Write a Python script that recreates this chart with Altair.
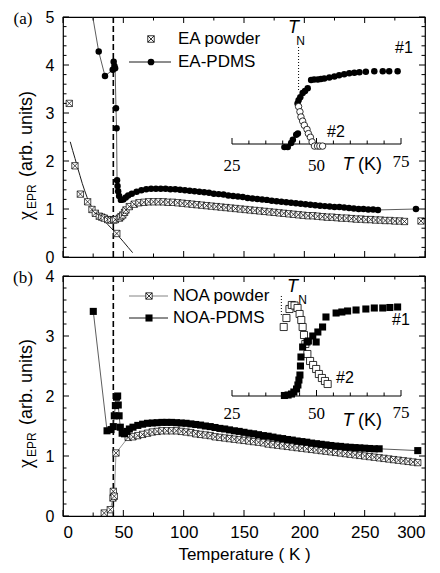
import altair as alt
import pandas as pd

# ======================= DATA =======================
# ---- panel (a): EA ----
EA_POW_T = [5.2, 9.9, 14.4, 20.4, 24.0, 26.8, 30.1, 32.2, 34.2, 37.0,
            39.8, 42.0, 43.4, 44.6, 46.7, 48.0, 49.5, 51.0, 52.2, 55.0,
            59, 63, 67, 71, 75, 79, 83, 87, 91, 95,
            99, 103, 107, 111, 115, 119, 123, 127, 131, 135,
            139, 143, 147, 151, 155, 159, 163, 167, 171, 175,
            179, 183, 187, 191, 195, 199, 203, 207, 211, 215,
            219, 223, 227, 231, 235, 239, 243, 247, 251, 255,
            259, 263, 267, 271, 275, 279, 283,
            296.7]
EA_POW_V = [3.20, 1.90, 1.31, 1.15, 0.99, 0.91, 0.85, 0.83, 0.81, 0.78,
            0.77, 0.77, 0.78, 0.49, 0.81, 0.84, 0.875, 0.93, 0.98, 1.05,
            1.10, 1.13, 1.14, 1.15, 1.15, 1.15, 1.15, 1.14, 1.14, 1.13,
            1.12, 1.11, 1.10, 1.09, 1.08, 1.07, 1.06, 1.05, 1.04, 1.03,
            1.02, 1.01, 1.00, 0.99, 0.98, 0.97, 0.96, 0.95, 0.94, 0.93,
            0.92, 0.91, 0.90, 0.89, 0.88, 0.87, 0.86, 0.86, 0.85, 0.84,
            0.83, 0.83, 0.82, 0.81, 0.81, 0.80, 0.79, 0.79, 0.78, 0.78,
            0.77, 0.77, 0.76, 0.76, 0.75, 0.75, 0.74,
            0.75]

EA_PDMS_T = [20.6, 29.6, 34.8, 41.2, 42.0, 42.6, 43.2, 43.9, 44.4, 44.8,
             45.2, 45.7, 46.5, 48, 50, 52, 54, 57,
             61, 65, 69, 73, 77, 81, 85, 89, 93, 97,
             101, 105, 109, 113, 117, 121, 125, 129, 133, 137,
             141, 145, 149, 153, 157, 161, 165, 169, 173, 177,
             181, 185, 189, 193, 197, 201, 205, 209, 213, 217,
             221, 225, 229, 233, 237, 241, 245, 249, 253, 257,
             261,
             292.5]
EA_PDMS_V = [5.60, 4.28, 3.77, 3.90, 4.07, 3.98, 3.93, 3.10, 2.68, 1.60,
             1.48, 1.37, 1.27, 1.19, 1.20, 1.24, 1.28, 1.32,
             1.36, 1.39, 1.41, 1.42, 1.42, 1.42, 1.42, 1.41, 1.41, 1.40,
             1.39, 1.38, 1.37, 1.36, 1.35, 1.34, 1.32, 1.31, 1.30, 1.28,
             1.27, 1.26, 1.25, 1.23, 1.22, 1.21, 1.20, 1.19, 1.17, 1.16,
             1.15, 1.14, 1.13, 1.12, 1.11, 1.10, 1.09, 1.08, 1.07, 1.06,
             1.05, 1.04, 1.04, 1.03, 1.02, 1.01, 1.00, 1.00, 0.99, 0.99,
             0.98,
             1.00]

FIT_T = [6, 8, 10, 12, 14, 16, 18, 20, 22, 25, 28, 31, 34, 37, 40, 44.5, 50, 54, 57.7]
FIT_V = [2.40, 2.22, 2.05, 1.87, 1.70, 1.53, 1.38, 1.24, 1.12, 1.00, 0.92, 0.84,
         0.76, 0.68, 0.60, 0.48, 0.32, 0.20, 0.09]

TN_LINE_T = [41.7]

# inset (a)
INA_F_T = [40.5, 41.5, 42.5, 43.0, 44.0, 44.5, 44.4, 44.7, 45.2, 45.9, 46.6, 47.4,
           48.4, 49.3, 50.4, 51.3, 52.3, 53.8, 55.3, 56.7, 58.2, 59.7, 61.2, 62.7,
           64.6, 67.1, 69.6, 71.5, 74.0]
INA_F_V = [-0.03, -0.03, 0.01, 0.04, 0.09, 0.10, 0.39, 0.42, 0.45, 0.49, 0.51, 0.535,
           0.615, 0.62, 0.62, 0.625, 0.63, 0.64, 0.65, 0.66, 0.67, 0.68, 0.685, 0.69,
           0.695, 0.70, 0.70, 0.70, 0.70]
INA_O_T = [44.7, 45.1, 45.4, 45.9, 46.4, 47.2, 47.6, 48.2, 48.7, 49.4, 50.3, 51.0, 51.8]
INA_O_V = [0.36, 0.31, 0.26, 0.22, 0.18, 0.14, 0.10, 0.065, 0.02, -0.02, -0.02, -0.02, -0.02]
INA_TN_T = [44.7]

# ---- panel (b): NOA ----
NOA_POW_T = [34.2, 39.2, 41.4, 41.7, 42.5, 43.9,
             54, 58, 62, 66, 70, 74, 78, 82, 86, 90,
             94, 98, 102, 106, 110, 114, 118, 122, 126, 130,
             134, 138, 142, 146, 150, 154, 158, 162, 166, 170,
             174, 178, 182, 186, 190, 194, 198, 202, 206, 210,
             214, 218, 222, 226, 230, 234, 238, 242, 246, 250,
             254, 258, 262, 266, 270, 274, 278, 282, 286, 290,
             294]
NOA_POW_V = [0.05, 0.105, 0.30, 0.41, 0.33, 1.05,
             1.31, 1.32, 1.34, 1.36, 1.38, 1.40, 1.41, 1.42, 1.42, 1.42,
             1.42, 1.41, 1.40, 1.39, 1.37, 1.36, 1.35, 1.34, 1.32, 1.31,
             1.30, 1.29, 1.28, 1.27, 1.26, 1.25, 1.24, 1.23, 1.22, 1.20,
             1.19, 1.18, 1.17, 1.16, 1.15, 1.14, 1.13, 1.12, 1.11, 1.10,
             1.09, 1.08, 1.07, 1.06, 1.05, 1.04, 1.03, 1.02, 1.01, 1.00,
             0.99, 0.98, 0.97, 0.96, 0.95, 0.94, 0.93, 0.92, 0.91, 0.90,
             0.89]

NOA_PDMS_T = [25.1, 36.5, 39.8, 41.7, 42.5, 43.4, 44.3, 45.3, 45.8, 46.5,
              47.5, 49, 51, 53, 55, 58,
              62, 66, 70, 74, 78, 82, 86, 90, 94, 98,
              102, 106, 110, 114, 118, 122, 126, 130, 134, 138,
              142, 146, 150, 154, 158, 162, 166, 170, 174, 178,
              182, 186, 190, 194, 198, 202, 206, 210, 214, 218,
              222, 226, 230, 234, 238, 242, 246, 250, 254, 258,
              262,
              294]
NOA_PDMS_V = [3.41, 1.42, 1.44, 1.49, 1.67, 1.84, 1.98, 2.00, 1.85, 1.67,
              1.48, 1.38, 1.37, 1.41, 1.45, 1.48,
              1.51, 1.53, 1.545, 1.55, 1.555, 1.56, 1.56, 1.56, 1.555, 1.55,
              1.545, 1.535, 1.525, 1.515, 1.50, 1.49, 1.475, 1.46, 1.45, 1.435,
              1.42, 1.41, 1.395, 1.38, 1.37, 1.355, 1.34, 1.33, 1.315, 1.30,
              1.29, 1.275, 1.265, 1.25, 1.24, 1.23, 1.215, 1.205, 1.195, 1.185,
              1.175, 1.165, 1.16, 1.15, 1.145, 1.14, 1.135, 1.13, 1.125, 1.12,
              1.12,
              1.09]

# inset (b)
INB_F_T = [40.5, 41.6, 42.6, 43.3, 44.1, 44.5, 44.8, 45.1, 45.25, 45.4, 45.9, 47.2, 47.6,
           48.9, 49.9, 50.4, 51.8, 52.8, 55.8, 57.5, 59.2, 61.7, 64.6, 67.1, 69.6,
           71.7, 74.0]
INB_F_V = [0.005, 0.01, 0.02, 0.04, 0.07, 0.11, 0.16, 0.21, 0.30, 0.39, 0.49, 0.54, 0.55,
           0.60, 0.54, 0.64, 0.69, 0.79, 0.83, 0.84, 0.85, 0.86, 0.87, 0.88, 0.88,
           0.885, 0.89]
INB_O_T = [40.3, 41.1, 42.0, 42.7, 43.5, 44.4, 45.0, 45.5, 45.9, 46.3, 46.7, 47.3,
           48.1, 49.0, 49.9, 50.7, 51.6, 52.5, 53.3]
INB_O_V = [0.69, 0.78, 0.87, 0.91, 0.905, 0.88, 0.82, 0.76, 0.69, 0.61, 0.52, 0.42,
           0.35, 0.31, 0.27, 0.22, 0.18, 0.15, 0.12]
INB_TN_T = [39.6]

# ---- axes / ticks ----
X_MAJOR = [0, 50, 100, 150, 200, 250, 300]
X_MINOR = [25, 75, 125, 175, 225, 275]
YA_MAJOR = [0, 1, 2, 3, 4, 5]
YA_MINOR = [0.2, 0.4, 0.6, 0.8, 1.2, 1.4, 1.6, 1.8, 2.2, 2.4, 2.6, 2.8,
            3.2, 3.4, 3.6, 3.8, 4.2, 4.4, 4.6, 4.8]
YB_MAJOR = [0, 1, 2, 3, 4]
YB_MINOR = [0.2, 0.4, 0.6, 0.8, 1.2, 1.4, 1.6, 1.8, 2.2, 2.4, 2.6, 2.8,
            3.2, 3.4, 3.6, 3.8]
IN_MAJOR = [25, 50, 75]
IN_MINOR = [30, 35, 40, 45, 55, 60, 65, 70]
IN_LABELS = ["25", "50", "75"]

LEG_A = ["EA powder", "EA-PDMS"]
LEG_B = ["NOA powder", "NOA-PDMS"]

# ======================= STYLE =======================
W, H = 362, 240
SANS = "Liberation Sans"
SERIF = "Liberation Serif"
XSQ = "M-1,-1L1,-1L1,1L-1,1Z M-1,-1L1,1 M1,-1L-1,1"
TICK_UP = "M0,0L0,-2"
MAJ, MIN = 6, 3.5


def frame(T=None, V=None):
    d = {}
    if T is not None:
        d["T"] = T
    if V is not None:
        d["V"] = V
    return pd.DataFrame(d)


def series(T, V):
    d = pd.DataFrame({"T": T, "V": V})
    d["i"] = range(len(d))
    return d


def txt(s, x, y, size=17, font=SANS, style="normal", align="center", baseline="middle", angle=0):
    kw = dict(align=align, baseline=baseline, font=font, fontSize=size, fontStyle=style, color="black")
    if angle:
        kw["angle"] = angle
    return alt.Chart(pd.DataFrame({"s": [s]})).mark_text(**kw).encode(
        x=alt.value(x), y=alt.value(y), text="s:N")


def frame_ticks(X, Y, ymaj, ymin):
    out = []
    for vals, ln in ((X_MAJOR, MAJ), (X_MINOR, MIN)):
        d = frame(T=vals)
        out.append(alt.Chart(d).mark_rule(color="black", strokeWidth=1).encode(
            x=X, y=alt.value(H), y2=alt.value(H - ln)))
        out.append(alt.Chart(d).mark_rule(color="black", strokeWidth=1).encode(
            x=X, y=alt.value(0), y2=alt.value(ln)))
    for vals, ln in ((ymaj, MAJ), (ymin, MIN)):
        d = frame(V=vals)
        out.append(alt.Chart(d).mark_rule(color="black", strokeWidth=1).encode(
            y=Y, x=alt.value(0), x2=alt.value(ln)))
        out.append(alt.Chart(d).mark_rule(color="black", strokeWidth=1).encode(
            y=Y, x=alt.value(W), x2=alt.value(W - ln)))
    return out


def ytitle(start):
    return [
        txt("χ", -31, start, size=20, font=SERIF, align="left", baseline="alphabetic", angle=270),
        txt("EPR", -27, start - 11, size=12, align="left", baseline="alphabetic", angle=270),
        txt("(arb. units)", -31, start - 43, size=18, align="left", baseline="alphabetic", angle=270),
    ]


def inset_axis(XI, YI, lab_dy, lab75_dy):
    out = []
    out.append(alt.Chart(pd.DataFrame({"T": [IN_MAJOR[0]], "T2": [IN_MAJOR[-1]], "V": [0]}))
               .mark_rule(color="black", strokeWidth=1.2).encode(x=XI, x2="T2:Q", y=YI))
    for vals, sz in ((IN_MAJOR, MAJ), (IN_MINOR, MIN)):
        d = pd.DataFrame({"T": vals, "V": [0] * len(vals)})
        out.append(alt.Chart(d).mark_point(shape=TICK_UP, size=sz * sz, stroke="black",
                                            strokeWidth=1, filled=False, opacity=1)
                   .encode(x=XI, y=YI))
    d = pd.DataFrame({"T": IN_MAJOR[:2], "V": [0, 0], "s": IN_LABELS[:2]})
    out.append(alt.Chart(d).mark_text(font=SERIF, fontSize=17, dy=lab_dy, color="black")
               .encode(x=XI, y=YI, text="s:N"))
    d = pd.DataFrame({"T": IN_MAJOR[2:], "V": [0], "s": IN_LABELS[2:]})
    out.append(alt.Chart(d).mark_text(font=SERIF, fontSize=17, dy=lab75_dy, color="black")
               .encode(x=XI, y=YI, text="s:N"))
    return out


def panel(ymax, ymaj, ymin, xaxis, main_data, legend, inset, letter, ystart):
    xs = alt.Scale(domain=[0, 300], nice=False, zero=False)
    ys = alt.Scale(domain=[0, ymax], nice=False, zero=False)
    X = alt.X("T:Q", scale=xs, axis=xaxis)
    Y = alt.Y("V:Q", scale=ys, axis=alt.Axis(values=ymaj, ticks=False, domain=False, grid=False,
                                              labelFont=SANS, labelFontSize=16, labelColor="black",
                                              labelPadding=9, title=None, format="d"))
    layers = [alt.Chart(frame(T=TN_LINE_T)).mark_rule(color="black", strokeWidth=1.6,
                                                       strokeDash=[6, 3]).encode(x=X)]
    layers += main_data(X, Y)
    layers += frame_ticks(X, Y, ymaj, ymin)
    layers += legend
    layers.append(txt(letter, -40, 2, size=17, font=SERIF))
    layers += ytitle(ystart)
    main = alt.layer(*layers)
    ins = alt.layer(*inset)
    return alt.layer(main, ins).resolve_scale(x="independent", y="independent").properties(
        width=W, height=H)


# ---------------- panel (a) ----------------
def data_a(X, Y):
    return [
        alt.Chart(series(FIT_T, FIT_V)).mark_line(color="black", strokeWidth=0.9, clip=True)
        .encode(x=X, y=Y, order="i:Q"),
        alt.Chart(series(EA_POW_T, EA_POW_V)).mark_point(shape=XSQ, size=40, filled=True, fill="white",
                                                         stroke="black", strokeWidth=0.7, opacity=1,
                                                         clip=True)
        .encode(x=X, y=Y),
        alt.Chart(series(EA_PDMS_T, EA_PDMS_V)).mark_line(color="#333", strokeWidth=0.8, clip=True)
        .encode(x=X, y=Y, order="i:Q"),
        alt.Chart(series(EA_PDMS_T, EA_PDMS_V)).mark_point(shape="circle", size=42, filled=True,
                                                           color="black", opacity=1, clip=True)
        .encode(x=X, y=Y),
    ]


one = pd.DataFrame({"k": [0]})
legend_a = [
    alt.Chart(one).mark_point(shape=XSQ, size=42, filled=True, fill="white", stroke="black",
                              strokeWidth=0.8, opacity=1).encode(x=alt.value(88), y=alt.value(22)),
    txt(LEG_A[0], 115, 22, align="left"),
    alt.Chart(one).mark_rule(color="black", strokeWidth=0.9).encode(
        x=alt.value(66), x2=alt.value(108), y=alt.value(45)),
    alt.Chart(one).mark_point(shape="circle", size=45, filled=True, color="black", opacity=1)
    .encode(x=alt.value(88), y=alt.value(45)),
    txt(LEG_A[1], 115, 45, align="left"),
]

XIA = alt.X("T:Q", scale=alt.Scale(domain=[25, 75], range=[169, 338], nice=False, zero=False), axis=None)
YIA = alt.Y("V:Q", scale=alt.Scale(domain=[0, 1], range=[127, 23], nice=False, zero=False), axis=None)
inset_a = inset_axis(XIA, YIA, 22, 18) + [
    alt.Chart(frame(T=INA_TN_T)).mark_rule(color="black", strokeWidth=1, strokeDash=[1, 2])
    .encode(x=XIA, y=alt.value(30), y2=alt.value(73)),
    alt.Chart(series(INA_F_T, INA_F_V)).mark_point(shape="circle", size=42, filled=True, color="black",
                                                   opacity=1).encode(x=XIA, y=YIA),
    alt.Chart(series(INA_O_T, INA_O_V)).mark_point(shape="circle", size=42, filled=True, fill="white",
                                                   stroke="black", strokeWidth=0.8, opacity=1)
    .encode(x=XIA, y=YIA),
    txt("T", 230.5, 10.5, size=18, style="italic"),
    txt("N", 237.5, 24, size=12),
    txt("#1", 341, 31, size=16),
    txt("#2", 273, 115, size=16),
    txt("T", 285, 148, size=18, style="italic"),
    txt("(K)", 295, 148, size=18, align="left"),
]

panel_a = panel(5, YA_MAJOR, YA_MINOR, None, data_a, legend_a, inset_a, "(a)", 203)


# ---------------- panel (b) ----------------
def data_b(X, Y):
    return [
        alt.Chart(series(NOA_POW_T, NOA_POW_V)).mark_line(color="#777", strokeWidth=0.8, clip=True)
        .encode(x=X, y=Y, order="i:Q"),
        alt.Chart(series(NOA_POW_T, NOA_POW_V)).mark_point(shape=XSQ, size=40, filled=True, fill="white",
                                                           stroke="black", strokeWidth=0.7, opacity=1,
                                                           clip=True)
        .encode(x=X, y=Y),
        alt.Chart(series(NOA_PDMS_T, NOA_PDMS_V)).mark_line(color="#333", strokeWidth=0.8, clip=True)
        .encode(x=X, y=Y, order="i:Q"),
        alt.Chart(series(NOA_PDMS_T, NOA_PDMS_V)).mark_point(shape="square", size=50, filled=True,
                                                             color="black", opacity=1, clip=True)
        .encode(x=X, y=Y),
    ]


legend_b = [
    alt.Chart(one).mark_rule(color="#777", strokeWidth=0.9).encode(
        x=alt.value(66), x2=alt.value(105), y=alt.value(20)),
    alt.Chart(one).mark_point(shape=XSQ, size=40, filled=True, fill="white", stroke="black",
                              strokeWidth=0.8, opacity=1).encode(x=alt.value(86), y=alt.value(20)),
    txt(LEG_B[0], 110, 20, align="left"),
    alt.Chart(one).mark_rule(color="black", strokeWidth=0.9).encode(
        x=alt.value(66), x2=alt.value(105), y=alt.value(42)),
    alt.Chart(one).mark_point(shape="square", size=50, filled=True, color="black", opacity=1)
    .encode(x=alt.value(86), y=alt.value(42)),
    txt(LEG_B[1], 110, 42, align="left"),
]

XIB = alt.X("T:Q", scale=alt.Scale(domain=[25, 75], range=[169, 338], nice=False, zero=False), axis=None)
YIB = alt.Y("V:Q", scale=alt.Scale(domain=[0, 1], range=[120, 20], nice=False, zero=False), axis=None)
inset_b = inset_axis(XIB, YIB, 18, 17) + [
    alt.Chart(frame(T=INB_TN_T)).mark_rule(color="black", strokeWidth=1, strokeDash=[1, 2])
    .encode(x=XIB, y=alt.value(20), y2=alt.value(39)),
    alt.Chart(series(INB_O_T, INB_O_V)).mark_point(shape="square", size=50, filled=True, fill="white",
                                                   stroke="black", strokeWidth=0.8, opacity=1)
    .encode(x=XIB, y=YIB),
    alt.Chart(series(INB_F_T, INB_F_V)).mark_point(shape="square", size=50, filled=True, color="black",
                                                   opacity=1).encode(x=XIB, y=YIB),
    txt("T", 229.5, 11, size=18, style="italic"),
    txt("N", 239.5, 24, size=12),
    txt("#1", 338, 44, size=16),
    txt("#2", 282, 102, size=16),
    txt("T", 285, 145, size=18, style="italic"),
    txt("(K)", 295, 145, size=18, align="left"),
]

xaxis_b = alt.Axis(values=X_MAJOR, ticks=False, domain=False, grid=False, labelFont=SANS,
                   labelFontSize=17, labelColor="black", labelPadding=8, format="d",
                   title="Temperature ( K )", titleFont=SANS, titleFontSize=17,
                   titleFontWeight="normal", titleColor="black", titlePadding=6)

panel_b = panel(4, YB_MAJOR, YB_MINOR, xaxis_b, data_b, legend_b, inset_b, "(b)", 192)

chart = alt.vconcat(panel_a, panel_b, spacing=1).properties(
    padding={"left": 4, "top": 0, "right": 2, "bottom": 0},
    autosize=alt.AutoSizeParams(type="pad"),
    background="white",
).configure_view(stroke="black", strokeWidth=1.2)

chart.save("out.html", embed_options={"renderer": "svg", "actions": False})
